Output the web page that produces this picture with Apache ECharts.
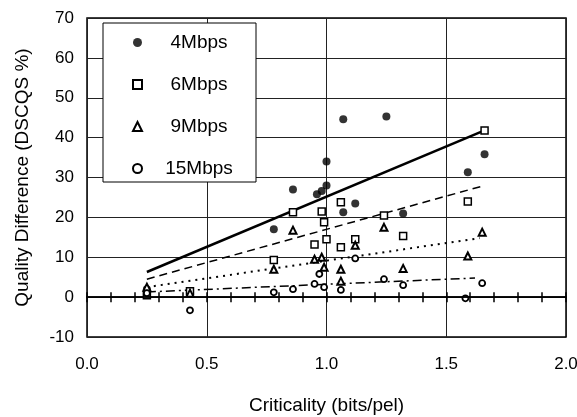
<!DOCTYPE html>
<html>
<head>
<meta charset="utf-8">
<script src="https://cdn.jsdelivr.net/npm/echarts@6/dist/echarts.min.js"></script>
<style>
  html, body { margin: 0; padding: 0; background: #fff; }
  #main { width: 577px; height: 417px; }
</style>
</head>
<body>
<div id="main"></div>
<script>
// 数据 (criticality, quality difference)
var names = ['4Mbps', '6Mbps', '9Mbps', '15Mbps'];
var pts4 = [[0.25,2],[0.43,1.5],[0.78,17],[0.86,27],[0.96,25.8],[0.98,26.6],[1.0,28],[1.0,34],[1.07,21.3],[1.07,44.6],[1.12,23.5],[1.25,45.3],[1.32,21],[1.59,31.3],[1.66,35.8]];
var pts6 = [[0.25,0.5],[0.43,1.5],[0.78,9.3],[0.86,21.3],[0.95,13.2],[0.98,21.5],[0.99,18.8],[1.0,14.5],[1.06,12.5],[1.06,23.8],[1.12,14.5],[1.24,20.5],[1.32,15.3],[1.59,24],[1.66,41.8]];
var pts9 = [[0.25,2.5],[0.43,1],[0.78,7],[0.86,16.8],[0.95,9.5],[0.98,10],[0.99,7.5],[1.06,7],[1.06,4],[1.12,13],[1.24,17.5],[1.32,7.2],[1.59,10.3],[1.65,16.3]];
var pts15 = [[0.25,1],[0.43,-3.3],[0.78,1.2],[0.86,2],[0.95,3.3],[0.97,5.8],[0.99,2.5],[1.06,1.8],[1.12,9.7],[1.24,4.5],[1.32,3],[1.58,-0.3],[1.65,3.5]];
// 趋势线端点
var fit4 = [[0.25,6.3],[1.66,41.8]];
var fit6 = [[0.25,4.5],[1.66,28]];
var fit9 = [[0.25,2.5],[1.64,14.8]];
var fit15 = [[0.25,1.3],[1.62,4.8]];

var font = 'Arial, "Liberation Sans", sans-serif';
var chart = echarts.init(document.getElementById('main'));

function fitLine(data, width, type, xi){
    return {
        type: 'line',
        data: data,
        xAxisIndex: xi,
        showSymbol: false,
        silent: true,
        z: 1,
        lineStyle: { color: '#000', width: width, type: type }
    };
}

// y=0 处带小刻度的轴
function zeroAxis(pos, offset){
    return {
        type: 'value', min: 0, max: 2, interval: 0.1,
        position: pos, offset: offset,
        axisLine: { show: true, onZero: false, lineStyle: { color: '#000', width: 1.5 } },
        axisTick: { show: true, inside: false, length: 5, lineStyle: { color: '#000', width: 1.5 } },
        axisLabel: { show: false },
        splitLine: { show: false },
        z: 5
    };
}

function buildOption(offBottom, offTop){
    return {
        animation: false,
        backgroundColor: '#fff',
        grid: {
            left: 87, right: 11, top: 18, bottom: 80,
            outerBoundsMode: 'none',
            containLabel: false,
            show: true, borderColor: '#000', borderWidth: 1.5
        },
        legend: {
            data: names,
            orient: 'vertical',
            left: 103, top: 23,
            padding: [10, 5, 4, 29],
            itemWidth: 9, itemHeight: 9,
            itemGap: 23,
            backgroundColor: '#fff',
            borderColor: '#000',
            borderWidth: 1,
            formatter: function(n){ return '{a|' + n + '}'; },
            textStyle: {
                rich: { a: { width: 104, align: 'center', fontSize: 19, lineHeight: 18, fontFamily: font, color: '#000' } }
            }
        },
        xAxis: [{
            type: 'value', min: 0, max: 2, interval: 0.5,
            position: 'bottom',
            axisLine: { show: false, onZero: false },
            axisTick: { show: false },
            axisLabel: {
                margin: 19, fontSize: 17, fontFamily: font, color: '#000',
                formatter: function(v){ return v.toFixed(1); }
            },
            splitLine: { show: true, lineStyle: { color: '#222', width: 1 } },
            name: 'Criticality (bits/pel)',
            nameLocation: 'middle', nameGap: 59,
            nameTextStyle: { fontSize: 19, fontFamily: font, color: '#000' }
        }, zeroAxis('bottom', offBottom), zeroAxis('top', offTop)],
        yAxis: {
            type: 'value', min: -10, max: 70, interval: 10,
            axisLine: { show: false, onZero: false },
            axisTick: { show: false },
            axisLabel: { margin: 13, fontSize: 17, fontFamily: font, color: '#000' },
            splitLine: { show: true, lineStyle: { color: '#222', width: 1 } },
            name: 'Quality Difference (DSCQS %)',
            nameLocation: 'middle', nameGap: 55,
            nameTextStyle: { fontSize: 19, fontFamily: font, color: '#000' }
        },
        series: [
            fitLine(fit4, 2.5, 'solid', 0),
            fitLine(fit6, 1.5, [8, 5], 1),
            fitLine(fit9, 2, [2, 5], 2),
            fitLine(fit15, 1.5, [9, 4, 2, 4], 0),
            {
                name: '4Mbps', type: 'scatter', data: pts4, symbol: 'circle', symbolSize: 8, z: 3,
                itemStyle: { color: '#000', borderColor: '#000', borderWidth: 0 }
            }, {
                name: '6Mbps', type: 'scatter', data: pts6, symbol: 'rect', symbolSize: 7, z: 3,
                itemStyle: { color: '#fff', borderColor: '#000', borderWidth: 1.5, opacity: 1 }
            }, {
                name: '9Mbps', type: 'scatter', data: pts9, symbol: 'triangle', symbolSize: 7, z: 3,
                itemStyle: { color: '#fff', borderColor: '#000', borderWidth: 2, opacity: 1 }
            }, {
                name: '15Mbps', type: 'scatter', data: pts15, symbol: 'circle', symbolSize: 6, z: 3,
                itemStyle: { color: '#fff', borderColor: '#000', borderWidth: 1.8, opacity: 1 }
            }
        ]
    };
}

chart.setOption(buildOption(0, 0));
// 把两条刻度轴移到 y=0
var y0 = chart.convertToPixel({ yAxisIndex: 0 }, 0);
var yBot = chart.convertToPixel({ yAxisIndex: 0 }, -10);
var yTop = chart.convertToPixel({ yAxisIndex: 0 }, 70);
chart.setOption(buildOption(y0 - yBot, yTop - y0));
</script>
</body>
</html>
